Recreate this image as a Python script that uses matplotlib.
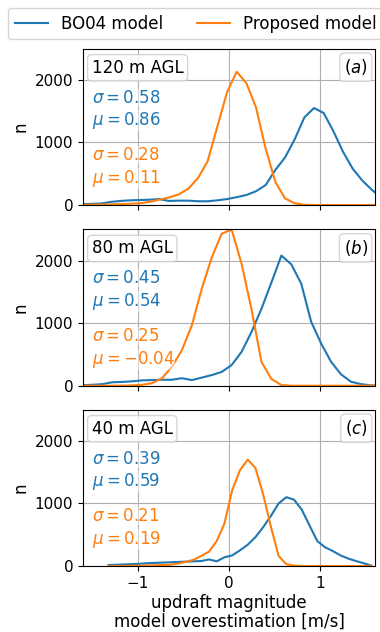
import matplotlib
matplotlib.use('Agg')
import matplotlib.pyplot as plt

# bin centres and counts, one grid per height
x_120 = [-1.612, -1.506, -1.400, -1.294, -1.188, -1.082, -0.976, -0.870, -0.764, -0.658,
         -0.552, -0.446, -0.340, -0.234, -0.128, -0.022, 0.084, 0.190, 0.296, 0.402,
         0.508, 0.614, 0.720, 0.826, 0.932, 1.038, 1.144, 1.250, 1.356, 1.462,
         1.568, 1.674]
bo04_120 = [15, 18, 25, 50, 65, 75, 80, 85, 95, 65,
            70, 70, 60, 60, 75, 95, 125, 160, 220, 320,
            560, 760, 1050, 1400, 1550, 1470, 1180, 850, 580, 390,
            240, 120]
prop_120 = [5, 5, 8, 10, 15, 20, 28, 50, 85, 120,
            170, 260, 430, 700, 1250, 1800, 2130, 1950, 1560, 900,
            370, 106, 27, 5, 0, 0, 0, 0, 0, 0,
            0, 0]

x_80 = [-1.606, -1.497, -1.388, -1.279, -1.170, -1.061, -0.952, -0.843, -0.734, -0.625,
        -0.516, -0.407, -0.298, -0.189, -0.080, 0.029, 0.138, 0.247, 0.356, 0.465,
        0.574, 0.683, 0.792, 0.901, 1.010, 1.119, 1.228, 1.337, 1.446, 1.555,
        1.664]
bo04_80 = [8, 15, 25, 55, 60, 70, 85, 90, 95, 95,
           120, 90, 130, 170, 220, 330, 541, 860, 1230, 1650,
           2080, 1940, 1630, 1020, 675, 382, 181, 64, 25, 5,
           2]
prop_80 = [0, 0, 0, 0, 2, 5, 15, 40, 120, 302,
           568, 965, 1550, 2050, 2430, 2495, 1950, 1220, 382, 107,
           11, 0, 0, 0, 0, 0, 0, 0, 0, 0,
           0]

x_40 = [-1.320, -1.235, -1.151, -1.066, -0.981, -0.897, -0.812, -0.727, -0.642, -0.558,
        -0.473, -0.388, -0.304, -0.219, -0.134, -0.050, 0.035, 0.120, 0.205, 0.289,
        0.374, 0.459, 0.544, 0.628, 0.713, 0.798, 0.882, 0.967, 1.052, 1.137,
        1.221, 1.306, 1.391, 1.475, 1.560]
bo04_40 = [15, 20, 25, 30, 35, 45, 50, 55, 60, 65,
           70, 75, 80, 105, 75, 140, 170, 250, 340, 460,
           620, 800, 1000, 1100, 1060, 900, 650, 400, 300, 240,
           170, 120, 80, 45, 8]
prop_40 = [0, 0, 0, 2, 5, 8, 12, 16, 20, 40,
           65, 100, 160, 230, 400, 680, 1210, 1530, 1700, 1570,
           1150, 630, 160, 30, 5, 0, 0, 0, 0, 0,
           0, 0, 0, 0, 0]

heights = ['120 m AGL', '80 m AGL', '40 m AGL']
panel_tags = ['$(a)$', '$(b)$', '$(c)$']
bo04_sigma = ['0.58', '0.45', '0.39']
bo04_mu = ['0.86', '0.54', '0.59']
prop_sigma = ['0.28', '0.25', '0.21']
prop_mu = ['0.11', '-0.04', '0.19']

xs = [x_120, x_80, x_40]
bo04 = [bo04_120, bo04_80, bo04_40]
prop = [prop_120, prop_80, prop_40]

blue = '#1f77b4'
orange = '#ff7f0e'

fig = plt.figure(figsize=(3.8, 6.32), dpi=100)
left, width, h = 0.2184, 0.7684, 0.2475
bottoms = [0.6756, 0.3897, 0.1044]

axes = []
for i in range(3):
  ax = fig.add_axes([left, bottoms[i], width, h])
  axes.append(ax)
  l1, = ax.plot(xs[i], bo04[i], color=blue, lw=1.5, label='BO04 model')
  l2, = ax.plot(xs[i], prop[i], color=orange, lw=1.5, label='Proposed model')
  ax.set_xlim(-1.6, 1.6)
  ax.set_ylim(0, 2500)
  ax.set_yticks([0, 1000, 2000])
  ax.set_xticks([-1, 0, 1])
  ax.grid(True, color='#b0b0b0', lw=0.8)
  ax.set_axisbelow(True)
  ax.tick_params(labelsize=11)
  ax.set_ylabel('n', fontsize=12)
  if i < 2:
    ax.set_xticklabels([])

  box = dict(boxstyle='round,pad=0.25', fc='white', ec='0.8', alpha=0.8)
  ax.text(0.03, 0.935, heights[i], transform=ax.transAxes, fontsize=12,
          ha='left', va='top', bbox=box)
  ax.text(0.975, 0.945, panel_tags[i], transform=ax.transAxes, fontsize=12,
          ha='right', va='top', bbox=box)

  soft = dict(fc='white', ec='none', alpha=0.5, pad=0)
  ax.text(0.03, 0.686, r'$\sigma=%s$' % bo04_sigma[i], transform=ax.transAxes,
          fontsize=12, color=blue, va='center', bbox=soft)
  ax.text(0.03, 0.538, r'$\mu=%s$' % bo04_mu[i], transform=ax.transAxes,
          fontsize=12, color=blue, va='center', bbox=soft)
  ax.text(0.03, 0.32, r'$\sigma=%s$' % prop_sigma[i], transform=ax.transAxes,
          fontsize=12, color=orange, va='center', bbox=soft)
  ax.text(0.03, 0.167, r'$\mu=%s$' % prop_mu[i], transform=ax.transAxes,
          fontsize=12, color=orange, va='center', bbox=soft)

axes[2].set_xlabel('updraft magnitude\nmodel overestimation [m/s]', fontsize=12,
                   labelpad=2, linespacing=1.1)

fig.legend(handles=[l1, l2], loc='upper left', ncol=2, fontsize=12,
           bbox_to_anchor=(8 / 380, 1 - 8 / 632), borderaxespad=0)

fig.savefig('out.png', dpi=100)
